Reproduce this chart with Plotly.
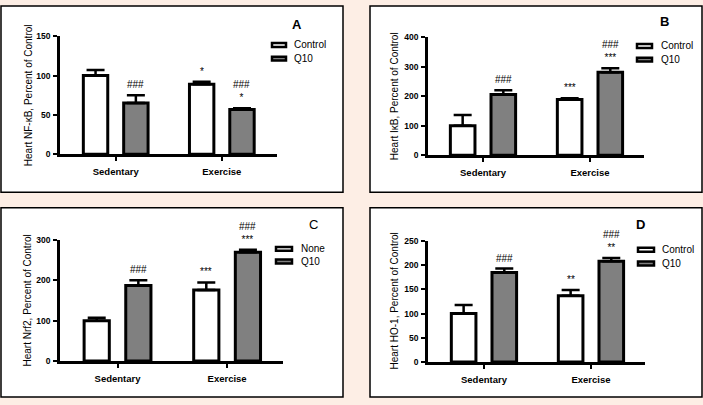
import plotly.graph_objects as go

W, H = 703, 405
FONT = "Liberation Sans, Arial, sans-serif"

categories = ["Sedentary", "Exercise"]

# Panel A: NF-kB
a_ctrl = [100, 89]
a_ctrl_err = [7, 3]
a_q10 = [65, 57]
a_q10_err = [10, 1.5]
a_ctrl_marks = ["", "*"]
a_q10_marks = ["###", "###<br>*"]

# Panel B: IkB
b_ctrl = [100, 189]
b_ctrl_err = [36, 4]
b_q10 = [206, 281]
b_q10_err = [14, 14]
b_ctrl_marks = ["", "***"]
b_q10_marks = ["###", "###<br>***"]

# Panel C: Nrf2
c_ctrl = [100, 176]
c_ctrl_err = [7, 19]
c_q10 = [187, 270]
c_q10_err = [13, 6]
c_ctrl_marks = ["", "***"]
c_q10_marks = ["###", "###<br>***"]

# Panel D: HO-1
d_ctrl = [100, 137]
d_ctrl_err = [18, 12]
d_q10 = [185, 208]
d_q10_err = [8, 7]
d_ctrl_marks = ["", "**"]
d_q10_marks = ["###", "###<br>**"]

panels = [
    dict(letter="A", bold=True, ytitle="Heart NF-\u03baB, Percent of Control",
         names=["Control", "Q10"], ymax=150, dtick=50,
         ctrl=a_ctrl, ctrl_err=a_ctrl_err, q10=a_q10, q10_err=a_q10_err,
         ctrl_marks=a_ctrl_marks, q10_marks=a_q10_marks,
         box=(1, 1, 343, 192), plot=(60, 277, 32, 153), xr=(-0.525, 1.52),
         letter_xy=(297, 20), leg=(272, 286, 292, 41, 55), ytitle_x=28),
    dict(letter="B", bold=True, ytitle="Heart I\u03baB, Percent of Control",
         names=["Control", "Q10"], ymax=400, dtick=100,
         ctrl=b_ctrl, ctrl_err=b_ctrl_err, q10=b_q10, q10_err=b_q10_err,
         ctrl_marks=b_ctrl_marks, q10_marks=b_q10_marks,
         box=(370, 1, 702, 192), plot=(428, 644, 33, 154), xr=(-0.514, 1.505),
         letter_xy=(664, 17), leg=(637, 652, 659, 42, 56), ytitle_x=394),
    dict(letter="C", bold=False, ytitle="Heart Nrf2, Percent of Control",
         names=["None", "Q10"], ymax=300, dtick=100,
         ctrl=c_ctrl, ctrl_err=c_ctrl_err, q10=c_q10, q10_err=c_q10_err,
         ctrl_marks=c_ctrl_marks, q10_marks=c_q10_marks,
         box=(1, 208, 343, 402), plot=(60, 283, 241, 365), xr=(-0.525, 1.51),
         letter_xy=(313, 225), leg=(276, 292, 299, 250, 263), ytitle_x=28),
    dict(letter="D", bold=True, ytitle="Heart HO-1, Percent of Control",
         names=["Control", "Q10"], ymax=250, dtick=50,
         ctrl=d_ctrl, ctrl_err=d_ctrl_err, q10=d_q10, q10_err=d_q10_err,
         ctrl_marks=d_ctrl_marks, q10_marks=d_q10_marks,
         box=(370, 208, 702, 402), plot=(428, 645, 242, 366), xr=(-0.523, 1.505),
         letter_xy=(640, 225), leg=(638, 654, 660, 251, 265), ytitle_x=394),
]

BAR_W = 0.23
HALF = 0.19
CTRL_COLOR = "white"
Q10_COLOR = "#808080"

fig = go.Figure()
shapes = []
annotations = []

def px(x):
    return x / W

def py(y):
    return 1 - y / H

xpos = list(range(len(categories)))

for i, p in enumerate(panels):
    k = "" if i == 0 else str(i + 1)
    xa, ya = "x" + k, "y" + k
    # panel frame
    bx0, by0, bx1, by1 = p["box"]
    shapes.append(dict(type="rect", xref="paper", yref="paper",
                       x0=px(bx0), x1=px(bx1), y0=py(by1), y1=py(by0),
                       fillcolor="white", line=dict(color="black", width=1.5),
                       layer="below"))
    for vals, errs, name, color, off in [
        (p["ctrl"], p["ctrl_err"], p["names"][0], CTRL_COLOR, -HALF),
        (p["q10"], p["q10_err"], p["names"][1], Q10_COLOR, HALF),
    ]:
        fig.add_trace(go.Bar(
            x=xpos, y=vals, name=name, xaxis=xa, yaxis=ya,
            width=BAR_W, offset=off - BAR_W / 2, showlegend=False,
            hoverinfo="skip",
            marker=dict(color=color, line=dict(color="black", width=3)),
            error_y=dict(type="data", symmetric=False, array=errs,
                         arrayminus=[0] * len(errs), color="black",
                         thickness=2.5, width=9),
        ))
    # significance marks
    for vals, errs, marks, off in [
        (p["ctrl"], p["ctrl_err"], p["ctrl_marks"], -HALF),
        (p["q10"], p["q10_err"], p["q10_marks"], HALF),
    ]:
        for j, m in enumerate(marks):
            if not m:
                continue
            annotations.append(dict(
                x=xpos[j] + off, y=vals[j] + errs[j], xref=xa, yref=ya,
                text=m, showarrow=False, yanchor="bottom", xanchor="center",
                yshift=3, font=dict(family=FONT, size=10, color="black")))
    # axes
    pxl, pxr, pyt, pyb = p["plot"]
    xkey = "xaxis" + k
    ykey = "yaxis" + k
    fig.layout[xkey] = dict(
        domain=[px(pxl), px(pxr)], range=list(p["xr"]), anchor=ya,
        tickvals=xpos, ticktext=categories, showgrid=False, zeroline=False,
        showline=True, linecolor="black", linewidth=2.5,
        ticks="outside", ticklen=4, tickwidth=2, tickcolor="black",
        ticklabelstandoff=3,
        tickfont=dict(family=FONT, size=9.5, color="black", weight="bold"),
        fixedrange=True)
    fig.layout[ykey] = dict(
        domain=[py(pyb), py(pyt)], range=[0, p["ymax"]], anchor=xa,
        tick0=0, dtick=p["dtick"], showgrid=False, zeroline=False,
        showline=True, linecolor="black", linewidth=2.5,
        ticks="outside", ticklen=4, tickwidth=2, tickcolor="black",
        ticklabelstandoff=1,
        tickfont=dict(family=FONT, size=8.5, color="black", weight="bold"),
        fixedrange=True)
    # y title
    annotations.append(dict(
        x=px(p["ytitle_x"]), y=py((pyt + pyb) / 2), xref="paper", yref="paper",
        text=p["ytitle"], textangle=-90, showarrow=False,
        xanchor="center", yanchor="middle",
        font=dict(family=FONT, size=10, color="black")))
    # panel letter
    lx, ly = p["letter_xy"]
    annotations.append(dict(
        x=px(lx), y=py(ly), xref="paper", yref="paper", text=p["letter"],
        showarrow=False, xanchor="center", yanchor="middle",
        font=dict(family=FONT, size=13, color="black",
                  weight="bold" if p["bold"] else "normal")))
    # legend
    lb0, lb1, ltx, r1, r2 = p["leg"]
    for name, color, ry in [(p["names"][0], CTRL_COLOR, r1),
                            (p["names"][1], Q10_COLOR, r2)]:
        shapes.append(dict(type="rect", xref="paper", yref="paper",
                           x0=px(lb0), x1=px(lb1), y0=py(ry + 2), y1=py(ry - 2),
                           fillcolor=color, line=dict(color="black", width=2.5)))
        annotations.append(dict(
            x=px(ltx), y=py(ry), xref="paper", yref="paper", text=name,
            showarrow=False, xanchor="left", yanchor="middle",
            font=dict(family=FONT, size=10, color="black")))

fig.update_layout(
    width=W, height=H, margin=dict(l=0, r=0, t=0, b=0),
    paper_bgcolor="#FDEEE5", plot_bgcolor="rgba(0,0,0,0)",
    barmode="overlay", shapes=shapes, annotations=annotations,
    font=dict(family=FONT, color="black"), hovermode=False,
)

fig.write_html(
    "out.html",
    config={"displayModeBar": False},
    post_script="document.body.style.margin='0';document.body.style.padding='0';"
                "document.body.style.overflow='hidden';",
)
